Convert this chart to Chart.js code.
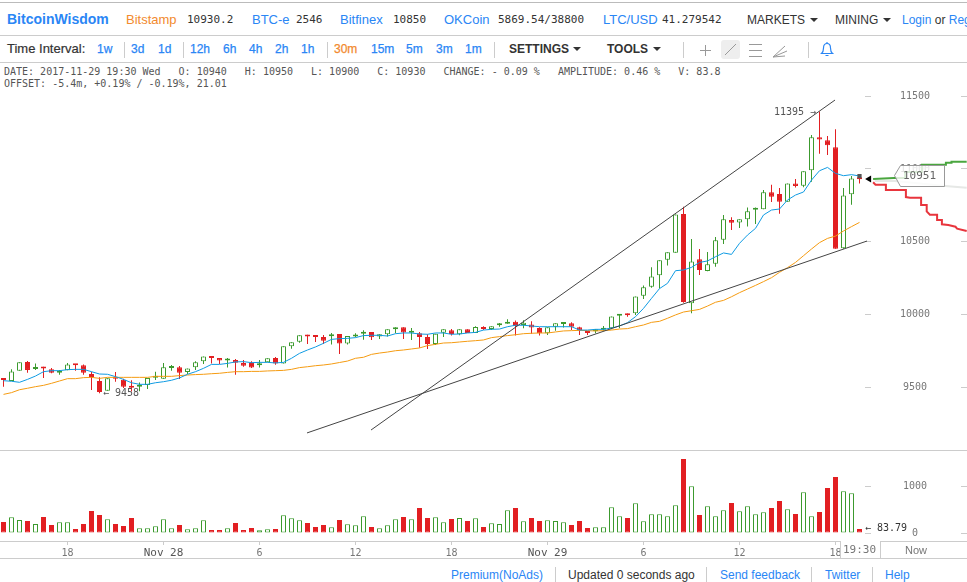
<!DOCTYPE html>
<html>
<head>
<meta charset="utf-8">
<title>BitcoinWisdom</title>
<script src="https://cdn.jsdelivr.net/npm/chart.js@4"></script>
<style>
  html, body { margin: 0; padding: 0; background: #fff; }
  body { position: relative; width: 967px; height: 582px; overflow: hidden; font: 12px "Liberation Sans", Arial, sans-serif; color: #333; }
  .t { position: absolute; white-space: pre; line-height: 16px; }
  .row1 { top: 12px; font-size: 13px; }
  .row2 { top: 41px; font-size: 12px; -webkit-text-stroke: .25px; }
  .foot { top: 567px; font-size: 12px; }
  .blue { color: #2a86f5; }
  .orange { color: #f28a2e; }
  .mono { font-family: "DejaVu Sans Mono", monospace; }
  .val { font-size: 11px; color: #333; }
  .info { font: 10px/12px "DejaVu Sans Mono", monospace; color: #555; left: 4px; }
  .note { font: 10px/12px "DejaVu Sans Mono", monospace; color: #555; z-index: 3; }
  .hline { position: absolute; left: 0; width: 967px; height: 1px; background: #ccc; }
  .vline { position: absolute; width: 1px; background: #ccc; }
  .caret { position: absolute; width: 0; height: 0; border-left: 4px solid transparent; border-right: 4px solid transparent; border-top: 4px solid #333; }
  canvas { position: absolute; left: 0; display: block; }
  svg { position: absolute; }
</style>
</head>
<body>
<div class="hline" style="top:2px;background:#bbb"></div>
<div class="hline" style="top:35px"></div>
<div class="hline" style="top:62px"></div>
<div class="hline" style="top:450px"></div>
<div class="hline" style="top:558px"></div>

<!-- top bar -->
<span class="t blue" style="left:7px;top:11px;font-size:14px;font-weight:bold">BitcoinWisdom</span>
<span class="t row1 orange" style="left:126px">Bitstamp</span>
<span class="t row1 mono val" style="left:187px">10930.2</span>
<span class="t row1 blue" style="left:252px">BTC-e</span>
<span class="t row1 mono val" style="left:296px">2546</span>
<span class="t row1 blue" style="left:340px">Bitfinex</span>
<span class="t row1 mono val" style="left:393px">10850</span>
<span class="t row1 blue" style="left:444px">OKCoin</span>
<span class="t row1 mono val" style="left:498px">5869.54/38800</span>
<span class="t row1 blue" style="left:603px">LTC/USD</span>
<span class="t row1 mono val" style="left:662px">41.279542</span>
<span class="t row1" style="left:747px;font-size:12px">MARKETS</span><i class="caret" style="left:810px;top:18px"></i>
<span class="t row1" style="left:835px;font-size:12px">MINING</span><i class="caret" style="left:883px;top:18px"></i>
<span class="t row1" style="left:902px;font-size:12px"><span class="blue">Login</span> or <span class="blue">Reg</span></span>

<!-- interval bar -->
<span class="t row2" style="left:7px;font-size:13px;-webkit-text-stroke:.2px">Time Interval:</span>
<span class="t row2 blue" style="left:97px">1w</span>
<div class="vline" style="left:124px;top:42px;height:16px"></div>
<span class="t row2 blue" style="left:131px">3d</span>
<span class="t row2 blue" style="left:158px">1d</span>
<div class="vline" style="left:183px;top:42px;height:16px"></div>
<span class="t row2 blue" style="left:190px">12h</span>
<span class="t row2 blue" style="left:223px">6h</span>
<span class="t row2 blue" style="left:249px">4h</span>
<span class="t row2 blue" style="left:275px">2h</span>
<span class="t row2 blue" style="left:301px">1h</span>
<div class="vline" style="left:327px;top:42px;height:16px"></div>
<span class="t row2 orange" style="left:334px">30m</span>
<span class="t row2 blue" style="left:371px">15m</span>
<span class="t row2 blue" style="left:406px">5m</span>
<span class="t row2 blue" style="left:436px">3m</span>
<span class="t row2 blue" style="left:465px">1m</span>
<div class="vline" style="left:494px;top:42px;height:16px"></div>
<span class="t row2" style="left:509px;font-weight:bold;-webkit-text-stroke:0">SETTINGS</span><i class="caret" style="left:573px;top:47px"></i>
<span class="t row2" style="left:607px;font-weight:bold;-webkit-text-stroke:0">TOOLS</span><i class="caret" style="left:653px;top:47px"></i>
<div class="vline" style="left:683px;top:42px;height:16px"></div>
<svg style="left:695px;top:38px" width="100" height="22" fill="none" stroke="#999" stroke-width="1">
  <path d="M5 12.5H16M10.5 7V18"/>
  <rect x="26" y="2" width="19" height="19" rx="3" fill="#eee" stroke="none"/>
  <path d="M30 17L41 6"/>
  <path d="M54 6.5H67M54 12.5H67M54 18.5H67"/>
  <path d="M78 19L90 8M78 19L92 13M78 19L90 18"/>
</svg>
<div class="vline" style="left:808px;top:42px;height:16px"></div>
<svg style="left:820px;top:41px" width="14" height="16" fill="none" stroke="#2a86f5" stroke-width="1.2">
  <path d="M1.5 12.5C3.5 11 3.5 9 3.5 7C3.5 4 5 2.5 7 2.5C9 2.5 10.5 4 10.5 7C10.5 9 10.5 11 12.5 12.5Z"/>
  <path d="M5.5 14.5H8.5M7 1V2.5"/>
</svg>

<!-- ohlc read-out -->
<span class="t info" style="top:66px">DATE: 2017-11-29 19:30 Wed   O: 10940   H: 10950   L: 10900   C: 10930   CHANGE: - 0.09 %   AMPLITUDE: 0.46 %   V: 83.8</span>
<span class="t info" style="top:78px">OFFSET: -5.4m, +0.19% / -0.19%, 21.01</span>

<canvas id="priceChart" width="967" height="387" style="top:63px;width:967px;height:387px"></canvas>
<canvas id="volumeChart" width="967" height="107" style="top:451px;width:967px;height:107px"></canvas>

<!-- labels that sit on the chart -->
<span class="t note" style="left:774px;top:106px">11395 →</span>
<span class="t note" style="left:103px;top:387px">← 9458</span>
<span class="t note" style="left:865px;top:522px;color:#333">← 83.79</span>
<svg style="left:890px;top:160px;z-index:3" width="60" height="30">
  <polygon points="4.5,15.5 10.5,5.5 54.5,5.5 54.5,26.5 10.5,26.5" fill="rgba(255,255,255,.8)" stroke="#999"/>
</svg>
<span class="t mono" style="left:903px;top:168px;font-size:11px;color:#666;z-index:4">10951</span>
<div style="position:absolute;left:840px;top:541px;width:39px;height:17px;background:#fff;border-left:1px solid #ccc;border-right:1px solid #ccc;z-index:3"></div>
<span class="t mono" style="left:843px;top:542px;font-size:11px;color:#777;z-index:4">19:30</span>
<span class="t" style="left:905px;top:542px;font-size:11px;color:#777;z-index:4">Now</span>

<!-- footer -->
<span class="t foot blue" style="left:451px">Premium(NoAds)</span>
<div class="vline" style="left:555px;top:567px;height:15px"></div>
<span class="t foot" style="left:568px">Updated 0 seconds ago</span>
<div class="vline" style="left:706px;top:567px;height:15px"></div>
<span class="t foot blue" style="left:720px">Send feedback</span>
<div class="vline" style="left:811px;top:567px;height:15px"></div>
<span class="t foot blue" style="left:825px">Twitter</span>
<div class="vline" style="left:872px;top:567px;height:15px"></div>
<span class="t foot blue" style="left:885px">Help</span>

<script>
/* ── DATA ─────────────────────────────────────────────── */
const opens = [
  9561,9543,9614,9674,9625,9630,9623,9600,9616,9657,
  9651,9591,9543,9476,9570,9552,9499,9504,9515,9566,
  9559,9632,9637,9605,9637,9678,9712,9701,9683,9687,
  9667,9667,9651,9671,9701,9664,9781,9813,9852,9850,
  9845,9850,9866,9800,9848,9868,9880,9848,9864,9898,
  9912,9875,9871,9845,9797,9875,9891,9864,9898,9873,
  9912,9900,9926,9937,9951,9928,9932,9907,9871,9916,
  9935,9939,9912,9875,9884,9896,9905,9992,9997,10008,
  10129,10191,10269,10377,10425,10691,10077,10379,10299,10349,
  10514,10649,10633,10654,10720,10723,10840,10828,10775,10901,
  10885,10991,11218,11197,11149,10455,10826,10940
];
const highs = [
  9561,9623,9671,9680,9664,9641,9632,9619,9667,9657,
  9657,9607,9568,9561,9605,9559,9548,9532,9564,9607,
  9667,9653,9646,9628,9678,9712,9712,9701,9701,9694,
  9687,9678,9687,9699,9708,9781,9809,9857,9861,9852,
  9859,9873,9866,9852,9871,9891,9880,9864,9898,9912,
  9912,9907,9880,9864,9868,9898,9900,9898,9898,9919,
  9919,9919,9942,9967,9958,9960,9953,9912,9912,9939,
  9948,9946,9916,9880,9898,9921,9987,10003,10006,10123,
  10200,10324,10372,10427,10688,10741,10519,10450,10430,10533,
  10684,10668,10654,10736,10736,10856,10892,10869,10901,10931,
  10984,11234,11395,11227,11273,10869,10952,10950
];
const lows = [
  9504,9543,9614,9600,9619,9564,9596,9586,9616,9614,
  9586,9481,9458,9476,9538,9495,9470,9472,9488,9550,
  9559,9614,9557,9591,9619,9660,9664,9660,9635,9586,
  9641,9632,9635,9671,9655,9664,9765,9806,9797,9811,
  9797,9793,9729,9793,9843,9827,9825,9832,9848,9871,
  9832,9825,9772,9763,9790,9845,9855,9857,9873,9873,
  9893,9893,9916,9937,9855,9905,9868,9855,9859,9889,
  9910,9893,9859,9859,9871,9889,9898,9905,9985,9996,
  10106,10184,10178,10336,10425,10081,10008,10271,10297,10329,
  10485,10581,10594,10604,10622,10723,10773,10693,10775,10872,
  10874,10913,11105,11096,10452,10452,10755,10900
];
const closes = [
  9550,9609,9671,9619,9630,9628,9600,9612,9657,9652,
  9600,9570,9467,9561,9559,9504,9497,9515,9564,9570,
  9637,9635,9600,9628,9671,9712,9701,9683,9692,9669,
  9648,9635,9664,9699,9664,9781,9809,9857,9848,9845,
  9820,9864,9800,9852,9852,9880,9843,9864,9898,9912,
  9877,9877,9845,9797,9868,9898,9866,9898,9873,9914,
  9900,9919,9935,9951,9921,9944,9910,9871,9912,9939,
  9937,9916,9889,9873,9898,9898,9987,9994,9994,10123,
  10187,10262,10372,10427,10688,10086,10365,10306,10345,10510,
  10654,10631,10654,10709,10723,10840,10810,10775,10901,10883,
  10984,11218,11202,11163,10452,10817,10934,10930
];
const fastAverage = [
  9545,9541,9534,9554,9577,9607,9614,9614,9621,9623,
  9623,9607,9591,9589,9573,9554,9531,9520,9520,9531,
  9538,9548,9564,9589,9607,9630,9657,9657,9664,9674,
  9676,9669,9671,9671,9667,9671,9699,9733,9756,9777,
  9802,9829,9834,9836,9841,9855,9857,9857,9852,9868,
  9873,9873,9866,9864,9873,9873,9864,9866,9873,9877,
  9893,9898,9900,9916,9926,9926,9921,9916,9916,9916,
  9916,9916,9893,9893,9898,9898,9907,9921,9944,9985,
  10042,10111,10178,10214,10301,10306,10324,10358,10368,10397,
  10423,10413,10489,10546,10592,10684,10718,10725,10787,10821,
  10842,10924,10988,11011,10970,10954,10961,10952
];
const slowAverage = [
  9451,9463,9483,9493,9504,9513,9527,9543,9559,9559,
  9566,9568,9561,9568,9568,9568,9568,9568,9568,9575,
  9575,9575,9580,9584,9587,9589,9593,9596,9602,9607,
  9607,9609,9609,9612,9614,9616,9623,9635,9641,9648,
  9653,9660,9670,9680,9699,9706,9726,9735,9742,9751,
  9756,9763,9770,9786,9795,9804,9806,9811,9816,9820,
  9825,9841,9848,9855,9861,9868,9871,9873,9873,9880,
  9887,9889,9891,9889,9887,9889,9893,9900,9903,9916,
  9928,9946,9953,9974,9997,10017,10026,10035,10058,10084,
  10097,10122,10150,10175,10200,10226,10253,10290,10322,10358,
  10404,10450,10494,10523,10539,10574,10604,10633
];
const volumes = [
  234,333,277,255,191,340,170,227,227,85,
  191,468,383,291,191,149,319,99,99,142,
  291,99,170,78,99,269,64,64,99,213,
  64,106,57,78,85,376,312,269,213,128,
  170,121,277,184,163,355,128,99,163,291,
  340,291,532,319,333,227,298,319,255,312,
  128,206,191,482,532,248,319,255,269,255,
  227,170,255,106,121,121,546,355,319,631,
  248,397,397,355,588,1574,993,383,567,355,
  482,638,461,567,397,440,532,681,503,404,
  865,355,447,957,1191,886,844,84
];

// time axis: candle index -> label
const timeTickIndex = [8, 20, 32, 44, 56, 68, 80, 92, 104];
const timeTickLabels = ['18', 'Nov 28', '6', '12', '18', 'Nov 29', '6', '12', '18'];
const priceTicks = [9500, 10000, 10500, 11000, 11500];
const volumeTicks = [0, 1000];

// drawn trend lines, as candle index / price
const trendOneIndex = [45.94, 103.94];
const trendOnePrice = [9206, 11474];
const trendTwoIndex = [37.94, 107.94];
const trendTwoPrice = [9186, 10505];

// order book curves on the right, as candle index / price
const askIndex = [108.7, 111.3, 112.7, 112.7, 114.8, 114.8, 117.06, 117.8, 117.8, 118.5, 118.5, 120.4];
const askPrice = [10931, 10938, 10938, 10979, 10979, 11030, 11030, 11030, 11043, 11043, 11050, 11050];
const bidIndex = [108.7, 109, 110.3, 110.3, 112.8, 112.8, 113.3, 114.7, 114.7, 115.4, 115.4, 115.8, 116.7, 116.7, 117.3, 117.3, 118.1, 119, 119.2, 120.4];
const bidPrice = [10909, 10892, 10892, 10856, 10856, 10807, 10803, 10803, 10753, 10753, 10709, 10686, 10686, 10650, 10650, 10620, 10615, 10603, 10590, 10574];
const ghostIndex = [108.9, 111.4, 117.7, 120.4];
const ghostPrice = [10917, 10917, 10883, 10871];

const lastPriceIndex = [107];
const lastPrice = [10951];
const pointerIndex = [108.2];
const pointerPrice = [10931];

/* ── COLOURS ──────────────────────────────────────────── */
const RED = '#e21f22';
const GREEN = '#3c9a2e';
const LINE_FAINT = '#ccc';
const AXIS_FONT = { family: '"DejaVu Sans Mono", monospace', size: 10 };

const isUp = i => closes[i] >= opens[i];
const pairs = (xs, ys) => xs.map((x, i) => ({ x, y: ys[i] }));

// x scale is shared so that one candle takes 8px on both charts
const X_MIN = -0.4375;
const X_MAX = 120.4375;

// no space reserved: axes are drawn inside the plot
const noRoom = s => {
  s.width = 0;
  s.paddingLeft = s.paddingRight = s.paddingTop = s.paddingBottom = 0;
};

// right-hand value axis: short dash at both edges, label in between
function sideAxes(min, max, values, labelPadding) {
  return {
    y: {
      position: 'right', min, max,
      afterFit: noRoom,
      afterBuildTicks: s => { s.ticks = values.map(value => ({ value })); },
      border: { display: false },
      grid: { drawOnChartArea: false, tickLength: -6, color: LINE_FAINT },
      ticks: { mirror: true, crossAlign: 'center', padding: labelPadding, color: '#777', font: AXIS_FONT, callback: v => String(v) },
    },
    y2: {
      axis: 'y', position: { x: 108.4375 }, min, max,
      afterFit: noRoom,
      afterBuildTicks: s => { s.ticks = values.map(value => ({ value })); },
      border: { display: false },
      grid: { drawOnChartArea: false, tickLength: 6, color: LINE_FAINT },
      ticks: { display: false },
    },
  };
}

const barDefaults = { borderSkipped: false, inflateAmount: 0, grouped: false };

/* ── PRICE CHART ──────────────────────────────────────── */
function lineSet(data, color, width, order) {
  return { type: 'line', data, borderColor: color, borderWidth: width, pointRadius: 0, tension: 0, order };
}

new Chart(document.getElementById('priceChart'), {
  data: {
    datasets: [
      lineSet(pairs(trendOneIndex, trendOnePrice), '#444', 1, 0),
      lineSet(pairs(trendTwoIndex, trendTwoPrice), '#444', 1, 0),
      {
        type: 'line', data: pairs(lastPriceIndex, lastPrice), order: 1, showLine: false,
        pointStyle: 'rect', pointRadius: 3, pointBackgroundColor: '#555', pointBorderWidth: 0,
      },
      {
        type: 'line', data: pairs(pointerIndex, pointerPrice), order: 1, showLine: false,
        pointStyle: 'triangle', pointRotation: -90, pointRadius: 4, pointBackgroundColor: '#000', pointBorderWidth: 0,
      },
      lineSet(pairs(opens.map((_, i) => i), fastAverage), '#0f9be3', 1, 2),
      lineSet(pairs(opens.map((_, i) => i), slowAverage), '#f59b11', 1, 2),
      lineSet(pairs(ghostIndex, ghostPrice), '#e6e8e6', 2, 4),
      lineSet(pairs(askIndex, askPrice), '#4aa63f', 2, 3),
      lineSet(pairs(bidIndex, bidPrice), '#e8353d', 2, 3),
      {
        type: 'bar', ...barDefaults, order: 5,
        data: opens.map((o, i) => ({ x: i, y: [Math.min(o, closes[i]), Math.max(o, closes[i])] })),
        maxBarThickness: 5, minBarLength: 2, borderWidth: 1,
        backgroundColor: ctx => isUp(ctx.dataIndex) ? '#fff' : RED,
        borderColor: ctx => isUp(ctx.dataIndex) ? GREEN : RED,
      },
      {
        type: 'bar', ...barDefaults, order: 6,
        data: opens.map((_, i) => ({ x: i, y: [lows[i], highs[i]] })),
        maxBarThickness: 1, borderWidth: 0,
        backgroundColor: ctx => isUp(ctx.dataIndex) ? GREEN : RED,
      },
    ],
  },
  options: {
    responsive: false,
    animation: false,
    events: [],
    layout: { padding: 0, autoPadding: false },
    plugins: { legend: { display: false }, tooltip: { enabled: false } },
    scales: {
      x: { type: 'linear', display: false, offset: false, min: X_MIN, max: X_MAX },
      ...sideAxes(9068.7, 11728.5, priceTicks, -37),
    },
  },
});

/* ── VOLUME CHART ─────────────────────────────────────── */
new Chart(document.getElementById('volumeChart'), {
  type: 'bar',
  data: {
    datasets: [{
      ...barDefaults,
      data: volumes.map((v, i) => ({ x: i, y: v })),
      maxBarThickness: 5, borderWidth: 1,
      backgroundColor: ctx => isUp(ctx.dataIndex) ? '#fff' : RED,
      borderColor: ctx => isUp(ctx.dataIndex) ? GREEN : RED,
    }],
  },
  options: {
    responsive: false,
    animation: false,
    events: [],
    layout: { padding: 0, autoPadding: false },
    plugins: { legend: { display: false }, tooltip: { enabled: false } },
    scales: {
      x: {
        type: 'linear', offset: false, min: X_MIN, max: X_MAX,
        afterFit: s => {
          s.height = 17;
          s.paddingLeft = s.paddingRight = s.paddingTop = s.paddingBottom = 0;
        },
        afterBuildTicks: s => { s.ticks = timeTickIndex.map(value => ({ value })); },
        border: { color: LINE_FAINT },
        grid: { drawOnChartArea: false, offset: false, tickLength: 4, color: LINE_FAINT },
        ticks: {
          autoSkip: false, maxRotation: 0, padding: 2,
          color: ctx => (timeTickLabels[ctx.index] || '').startsWith('Nov') ? '#555' : '#777',
          font: ctx => ({ ...AXIS_FONT, size: (timeTickLabels[ctx.index] || '').startsWith('Nov') ? 11 : 10 }),
          callback: (v, i) => timeTickLabels[i],
        },
      },
      ...sideAxes(-170.2, 1744.7, volumeTicks, -40),
    },
  },
});
</script>
</body>
</html>
